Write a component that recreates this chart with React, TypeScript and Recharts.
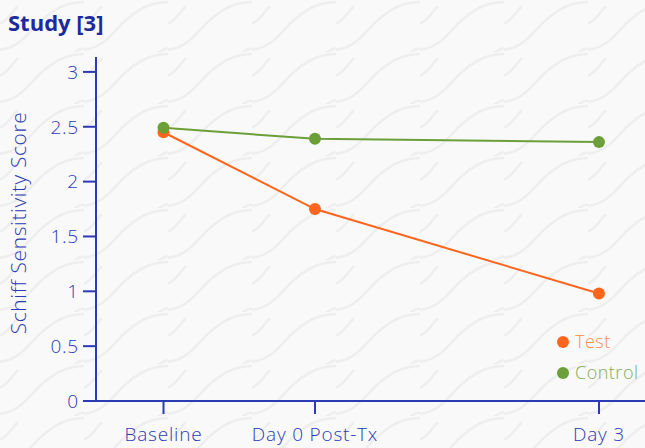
import { LineChart, Line, XAxis, YAxis } from "recharts";

const categories = ["Baseline", "Day 0 Post-Tx", "Day 3"];
const dayOffsets = [-1.6, 0, 3];
const testScores = [2.45, 1.75, 0.98];
const controlScores = [2.49, 2.39, 2.36];
const yTicks = [0, 0.5, 1, 1.5, 2, 2.5, 3];

const BLUE = "#2b3ab5";
const ORANGE = "#ff651c";
const GREEN = "#6c9f38";
const FONT = "'Open Sans', sans-serif";

const chartData = categories.map((c, i) => ({
  name: c,
  x: dayOffsets[i],
  test: testScores[i],
  control: controlScores[i],
}));

const wave = encodeURIComponent(
  `<svg xmlns="http://www.w3.org/2000/svg" width="84" height="52"><path d="M-4 50 C 20 50, 30 30, 42 20 S 64 2, 88 2" fill="none" stroke="#eeeeee" stroke-width="2.5"/><path d="M-4 24 C 6 24, 12 12, 18 6" fill="none" stroke="#eeeeee" stroke-width="2.5"/><path d="M66 60 C 72 54, 78 48, 88 48" fill="none" stroke="#eeeeee" stroke-width="2.5"/></svg>`
);

const legendItems = [
  { label: "Test", dot: ORANGE, text: "#ff8a52" },
  { label: "Control", dot: GREEN, text: "#80ad55" },
];

const tickStyle = { fill: BLUE, fontSize: 19, fontWeight: 300, fontFamily: FONT, letterSpacing: 0.8 };

const YLabel = ({ viewBox }: any) => {
  const cy = viewBox.y + viewBox.height / 2 - 6;
  return (
    <text
      x={18} y={cy} transform={`rotate(-90, 18, ${cy})`}
      textAnchor="middle" dominantBaseline="central"
      fill={BLUE} fontSize={21} fontWeight={300} fontFamily={FONT} letterSpacing={0.6}
    >
      Schiff Sensitivity Score
    </text>
  );
};

export default function App() {
  return (
    <div
      style={{
        position: "absolute", left: 0, top: 0, width: 645, height: 448,
        backgroundColor: "#f9f9f9",
        backgroundImage: `url("data:image/svg+xml,${wave}")`,
        fontFamily: FONT,
      }}
    >
      <div style={{ position: "absolute", left: 8, top: 7, fontSize: 22, fontWeight: 700, color: "#1b2a9e" }}>
        Study [3]
      </div>
      <LineChart width={645} height={448} data={chartData} margin={{ top: 57, right: 0, bottom: 0, left: 0 }}>
        <XAxis
          dataKey="x" type="number" domain={[-2.313, 3.486]} ticks={dayOffsets}
          tickFormatter={(v: number) => categories[dayOffsets.indexOf(v)]}
          height={47} tickSize={13} tickMargin={14}
          axisLine={{ stroke: BLUE, strokeWidth: 2 }} tickLine={{ stroke: BLUE, strokeWidth: 2 }}
          tick={tickStyle} interval={0}
        />
        <YAxis
          domain={[0, 3.136]} ticks={yTicks} width={96} tickSize={13} tickMargin={4}
          axisLine={{ stroke: BLUE, strokeWidth: 2 }} tickLine={{ stroke: BLUE, strokeWidth: 2 }}
          tick={tickStyle}
          label={<YLabel />}
        />
        <Line dataKey="test" name="Test" stroke={ORANGE} strokeWidth={2} dot={{ r: 6, fill: ORANGE, stroke: "none" }} isAnimationActive={false} />
        <Line dataKey="control" name="Control" stroke={GREEN} strokeWidth={2} dot={{ r: 6, fill: GREEN, stroke: "none" }} isAnimationActive={false} />
      </LineChart>
      <div style={{ position: "absolute", left: 557, top: 326, fontSize: 18, fontWeight: 300, lineHeight: "31px", letterSpacing: 0.5 }}>
        {legendItems.map((it) => (
          <div key={it.label} style={{ display: "flex", alignItems: "center" }}>
            <span style={{ width: 12, height: 12, borderRadius: 6, background: it.dot, marginRight: 6 }} />
            <span style={{ color: it.text }}>{it.label}</span>
          </div>
        ))}
      </div>
    </div>
  );
}
